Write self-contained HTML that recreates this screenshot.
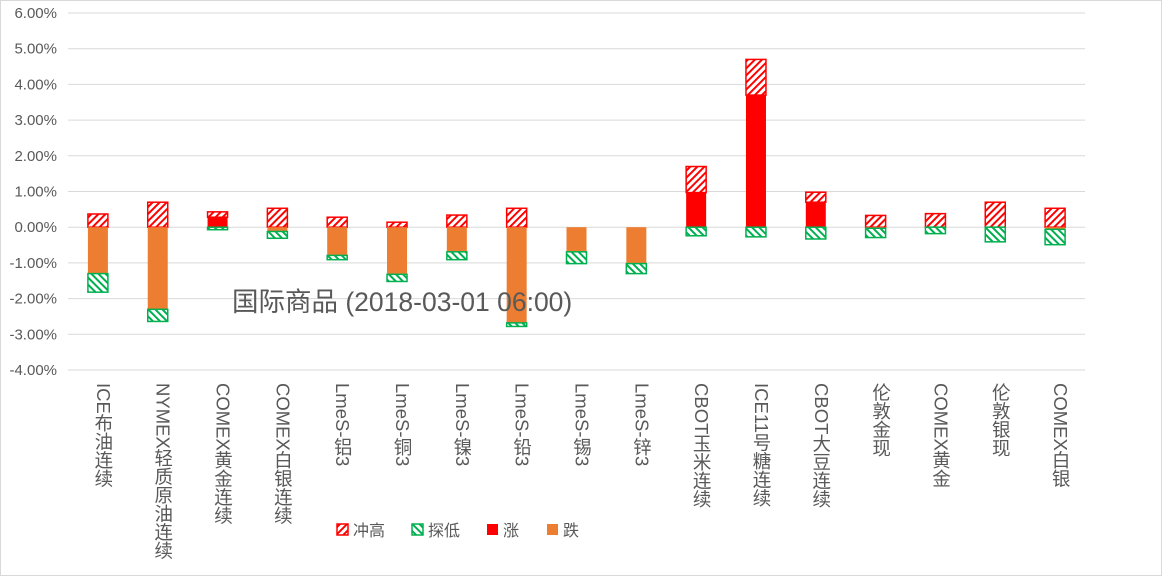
<!DOCTYPE html>
<html><head><meta charset="utf-8">
<style>
body{margin:0;background:#fff;}
#wrap{position:relative;width:1162px;height:576px;overflow:hidden;font-family:"Liberation Sans","Noto Sans CJK SC",sans-serif;}
.xl{position:absolute;top:383px;writing-mode:vertical-rl;text-orientation:mixed;font-size:18.5px;color:#595959;line-height:20px;width:20px;white-space:nowrap;}
</style></head>
<body>
<div id="wrap">
<svg id="chart" width="1162" height="576" style="position:absolute;left:0;top:0">
<defs>
<pattern id="hatchR" patternUnits="userSpaceOnUse" width="5" height="5" patternTransform="rotate(45)">
<rect width="5" height="5" fill="#fff"/><rect width="2" height="5" fill="#ff0000"/></pattern>
<pattern id="hatchG" patternUnits="userSpaceOnUse" width="5" height="5" patternTransform="rotate(-45)">
<rect width="5" height="5" fill="#fff"/><rect width="2" height="5" fill="#00b050"/></pattern>
</defs>
<rect x="0.5" y="0.5" width="1161" height="575" fill="#fff" stroke="#d9d9d9"/>
</svg>
<div style="position:absolute;left:232px;top:280px;font-size:26.5px;color:#595959;white-space:nowrap;">国际商品 (2018-03-01 06:00)</div>
</div>
<script>
const categories=["ICE布油连续","NYMEX轻质原油连续","COMEX黄金连续","COMEX白银连续","LmeS-铝3","LmeS-铜3","LmeS-镍3","LmeS-铅3","LmeS-锡3","LmeS-锌3","CBOT玉米连续","ICE11号糖连续","CBOT大豆连续","伦敦金现","COMEX黄金","伦敦银现","COMEX白银"];
const rise=[0,0,0.28,0,0,0,0,0,0,0,0.97,3.70,0.70,0,0,0,0];
const highExtra=[0.37,0.70,0.15,0.53,0.28,0.14,0.34,0.53,0,0,0.73,1.00,0.28,0.33,0.38,0.70,0.53];
const fall=[-1.30,-2.30,0,-0.12,-0.79,-1.32,-0.69,-2.68,-0.69,-1.02,0,0,0,-0.03,0,0,-0.06];
const lowExtra=[-0.52,-0.34,-0.07,-0.19,-0.12,-0.20,-0.22,-0.10,-0.33,-0.28,-0.24,-0.27,-0.33,-0.26,-0.18,-0.41,-0.43];
const yTicks=[6,5,4,3,2,1,0,-1,-2,-3,-4];

const svg=document.getElementById('chart');
const wrap=document.getElementById('wrap');
const NS='http://www.w3.org/2000/svg';
const x0=68,x1=1085,yTop=13,yBot=370,yMax=6,yMin=-4;
const band=(x1-x0)/categories.length;
function y(v){return yTop+(yMax-v)/(yMax-yMin)*(yBot-yTop);}
function xc(i){return x0+band*(i+0.5);}
function mk(tag,attrs){const e=document.createElementNS(NS,tag);for(const k in attrs)e.setAttribute(k,attrs[k]);svg.appendChild(e);return e;}

yTicks.forEach(t=>{
  const g=mk('line',{x1:x0,x2:x1,y1:y(t),y2:y(t),stroke:'#d9d9d9','stroke-width':1});
  
  
  const tx=mk('text',{x:57,y:y(t)+5,'text-anchor':'end','font-size':15,fill:'#595959','font-family':'Liberation Sans, sans-serif'});
  tx.textContent=t.toFixed(2)+'%';
  
  
});

const bw=20;
function seg(i,a,b,fill,stroke,name){
  if(Math.abs(b-a)<0.001)return;
  const top=y(Math.max(a,b)),bot=y(Math.min(a,b));
  const r=mk('rect',{x:xc(i)-bw/2,y:top,width:bw,height:Math.max(bot-top,0.5),fill:fill,stroke:stroke,'stroke-width':stroke==='none'?0:1.5});
  
  
}
categories.forEach((c,i)=>{
  seg(i,0,rise[i],'#ff0000','none','bar-rise');
  seg(i,rise[i],rise[i]+highExtra[i],'url(#hatchR)','#ff0000','bar-high');
  seg(i,0,fall[i],'#ed7d31','none','bar-fall');
  seg(i,fall[i],fall[i]+lowExtra[i],'url(#hatchG)','#00b050','bar-low');
  const d=document.createElement('div');
  d.className='xl';
  d.style.left=(xc(i)-5)+'px';
  d.textContent=c;
  
  
  wrap.appendChild(d);
});

const legend=[["冲高",'url(#hatchR)','#ff0000',337],["探低",'url(#hatchG)','#00b050',412],["涨",'#ff0000','none',487],["跌",'#ed7d31','none',547]];
legend.forEach(l=>{
  const r=mk('rect',{x:l[3],y:524,width:11,height:11,fill:l[1],stroke:l[2],'stroke-width':l[2]==='none'?0:1.5});
  
  
  const t=mk('text',{x:l[3]+16,y:536,'font-size':16,fill:'#595959','font-family':'Liberation Sans, Noto Sans CJK SC, sans-serif'});
  t.textContent=l[0];
  
  
});
</script>
</body></html>
